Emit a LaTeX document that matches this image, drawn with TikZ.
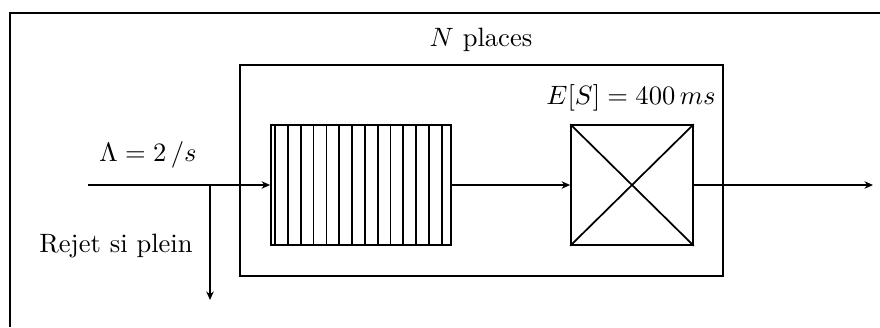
\documentclass[tikz,border=0pt]{standalone}
\usetikzlibrary{calc,arrows.meta}
\begin{document}
\begin{tikzpicture}[x=0.3766pt,y=-0.3766pt,
  ln/.style={line width=0.65pt},
  arr/.style={ln,-{Stealth[length=3.2pt,width=2.8pt,inset=1pt]}},
  frame/.style={line width=0.8pt},
  lbl/.style={inner sep=0pt,font=\normalsize}]
\useasboundingbox (0,0) rectangle (880,327);
% partial frame
\draw[frame] (10,327) -- (10,13) -- (880,13);
% inner box
\node[draw,ln,minimum width=483*0.3766pt,minimum height=211*0.3766pt,inner sep=0pt] (sys) at (481.5,170.5) {};
% queue
\node[draw,ln,minimum width=180*0.3766pt,minimum height=120*0.3766pt,inner sep=0pt] (queue) at (361,185) {};
\foreach \k in {0,...,13}{
  \draw[ln] ($(queue.north west)+(5+12.82*\k,0)$) -- ($(queue.south west)+(5+12.82*\k,0)$);
}
% server
\node[draw,ln,minimum width=122*0.3766pt,minimum height=120*0.3766pt,inner sep=0pt] (srv) at (632,185) {};
\draw[ln] (srv.north west) -- (srv.south east);
\draw[ln] (srv.south west) -- (srv.north east);
% coordinates
\coordinate (in) at (88,185);
\coordinate (split) at (210,185);
\coordinate (rej) at (210,300);
\coordinate (out) at (873,185);
\draw[arr] (in) -- (queue.west);
\draw[arr] (split) -- (rej);
\draw[arr] (queue.east) -- (srv.west);
\draw[arr] (srv.east) -- (out);
% labels
\node[lbl] (lam) at (148,155) {$\Lambda = 2\,/s$};
\node[lbl] (rejet) at (116,246) {Rejet si plein};
\node[lbl] (np) at (481,40) {$N$ places};
\node[lbl] (es) at (631,98) {$E[S] = 400\,ms$};
\end{tikzpicture}
\end{document}
